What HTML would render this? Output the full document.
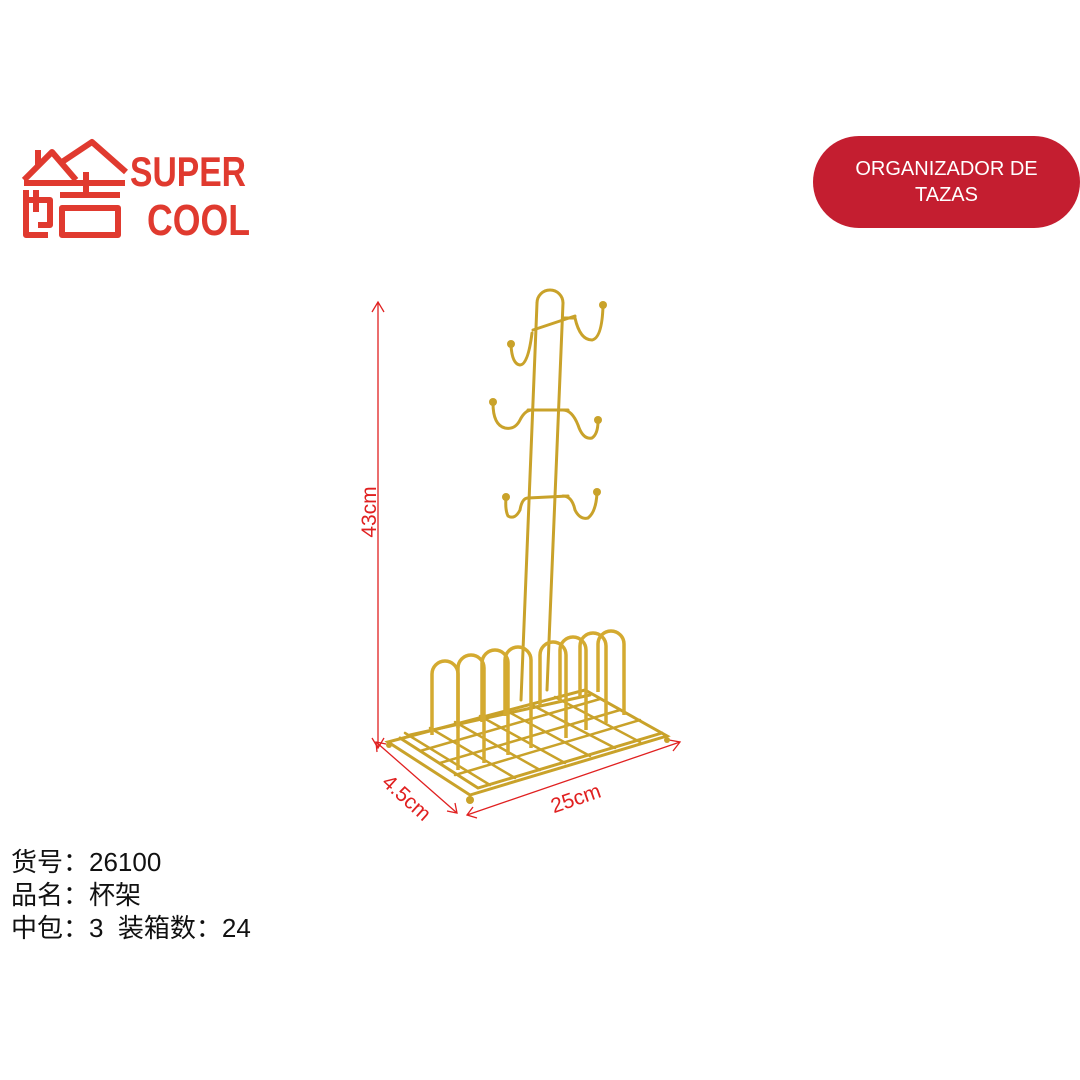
<!DOCTYPE html>
<html><head><meta charset="utf-8"><style>
body{margin:0;width:1080px;height:1080px;background:#fff;position:relative;overflow:hidden;font-family:"Liberation Sans","Noto Sans CJK SC",sans-serif}
.pill{position:absolute;left:813px;top:136px;width:267px;height:92px;background:#c41e30;border-radius:46px;color:#fff;font-size:20px;line-height:26px;text-align:center;display:flex;align-items:center;justify-content:center}
.info{position:absolute;left:11px;top:846px;font-size:26px;line-height:33px;color:#111}
</style></head><body>
<svg width="1080" height="1080" style="position:absolute;left:0;top:0">
<!-- logo -->
<g fill="none" stroke="#e03a2f" stroke-width="6" stroke-linejoin="round">
<path d="M24 180 L52 152 L76 180"/><path d="M62 162 L92 142 L126 172"/>
<path d="M38 150 L38 165"/><path d="M24 183 L125 183"/>
<path d="M26 190 L26 235 L48 235"/><path d="M26 200 L50 200 L50 225 L38 225"/><path d="M36 190 L36 212"/>
<path d="M60 195 L120 195"/><path d="M86 172 L86 195"/>
<path d="M62 208 L62 235 L118 235 L118 208 Z"/>
</g>
<text x="130" y="186" font-family="Liberation Sans" font-weight="bold" font-size="42" fill="#e03a2f" textLength="116" lengthAdjust="spacingAndGlyphs">SUPER</text>
<text x="147" y="235" font-family="Liberation Sans" font-weight="bold" font-size="44" fill="#e03a2f" textLength="103" lengthAdjust="spacingAndGlyphs">COOL</text>

<!-- dims -->
<g stroke="#e02020" stroke-width="1.3" fill="none">
<line x1="378" y1="302" x2="378" y2="748"/><path d="M372 312 L378 302 L384 312"/><path d="M372 738 L378 748 L384 738"/>
<line x1="376" y1="742" x2="457" y2="813"/><path d="M377 752 L376 742 L386 744"/><path d="M447 811 L457 813 L455 803"/>
<line x1="467" y1="815" x2="680" y2="742"/><path d="M473 807 L467 815 L477 818"/><path d="M669 740 L680 742 L673 751"/>
</g>
<text transform="translate(376,512) rotate(-90)" font-size="21" fill="#e02020" text-anchor="middle">43cm</text>
<text transform="translate(402,803) rotate(42)" font-size="21" fill="#e02020" text-anchor="middle">4.5cm</text>
<text transform="translate(578,805) rotate(-19)" font-size="21" fill="#e02020" text-anchor="middle">25cm</text>

<!-- rack -->
<g fill="none" stroke="#c9a22a" stroke-width="3" stroke-linecap="round">
<path d="M537 303 A13 13 0 0 1 563 303"/>
<line x1="537" y1="303" x2="521" y2="700"/><line x1="563" y1="303" x2="547" y2="690"/>
<line x1="533" y1="330" x2="575" y2="316"/><line x1="528" y1="410" x2="568" y2="410"/><line x1="528" y1="498" x2="568" y2="496"/>
<path d="M563 318 L575 318 Q580 340 592 340 Q602 338 603 306"/>
<path d="M532 333 Q528 365 520 365 Q512 364 511 345"/>
<path d="M532 410 Q525 410 520 420 Q515 430 505 428 Q493 425 493 403"/>
<path d="M563 410 Q572 410 578 425 Q583 440 592 438 Q598 434 598 421"/>
<path d="M528 498 Q522 498 520 510 Q515 520 508 516 Q505 510 506 498"/>
<path d="M563 496 Q572 496 575 510 Q580 520 588 518 Q596 512 597 493"/>
<!-- base -->
<path d="M388 742 L470 795 L667 736 L585 690 Z"/>
<path d="M400 738 L478 788 L662 733"/>
<path d="M410 735 L590 695"/>
<g stroke-width="2.5">
<line x1="420" y1="751" x2="600" y2="699"/><line x1="440" y1="763" x2="620" y2="710"/><line x1="455" y1="775" x2="640" y2="720"/>
<line x1="490" y1="785" x2="405" y2="733"/><line x1="515" y1="778" x2="430" y2="728"/><line x1="540" y1="770" x2="455" y2="722"/>
<line x1="565" y1="763" x2="480" y2="716"/><line x1="590" y1="756" x2="505" y2="710"/><line x1="615" y1="748" x2="530" y2="704"/><line x1="640" y1="742" x2="555" y2="697"/>
</g>
</g>
<g fill="none" stroke="#d4aa30" stroke-width="3.5">
<path d="M432 735 L432 674 A13 13 0 0 1 458 674 L458 770"/>
<path d="M458 728 L458 668 A13 13 0 0 1 484 668 L484 763"/>
<path d="M482 722 L482 663 A13 13 0 0 1 508 663 L508 755"/>
<path d="M505 716 L505 660 A13 13 0 0 1 531 660 L531 748"/>
<path d="M540 706 L540 655 A13 13 0 0 1 566 655 L566 738"/>
<path d="M560 702 L560 650 A13 13 0 0 1 586 650 L586 730"/>
<path d="M580 697 L580 646 A13 13 0 0 1 606 646 L606 723"/>
<path d="M598 692 L598 644 A13 13 0 0 1 624 644 L624 715"/>
</g>
<g fill="#c9a22a"><circle cx="603" cy="305" r="4"/><circle cx="511" cy="344" r="4"/><circle cx="493" cy="402" r="4"/><circle cx="598" cy="420" r="4"/><circle cx="506" cy="497" r="4"/><circle cx="597" cy="492" r="4"/><circle cx="470" cy="800" r="4"/><circle cx="667" cy="740" r="3"/><circle cx="389" cy="745" r="3"/></g>
</svg>
<div class="pill">ORGANIZADOR DE<br>TAZAS</div>
<div class="info">货号：26100<br>品名：杯架<br>中包：3&nbsp; 装箱数：24</div>
</body></html>
